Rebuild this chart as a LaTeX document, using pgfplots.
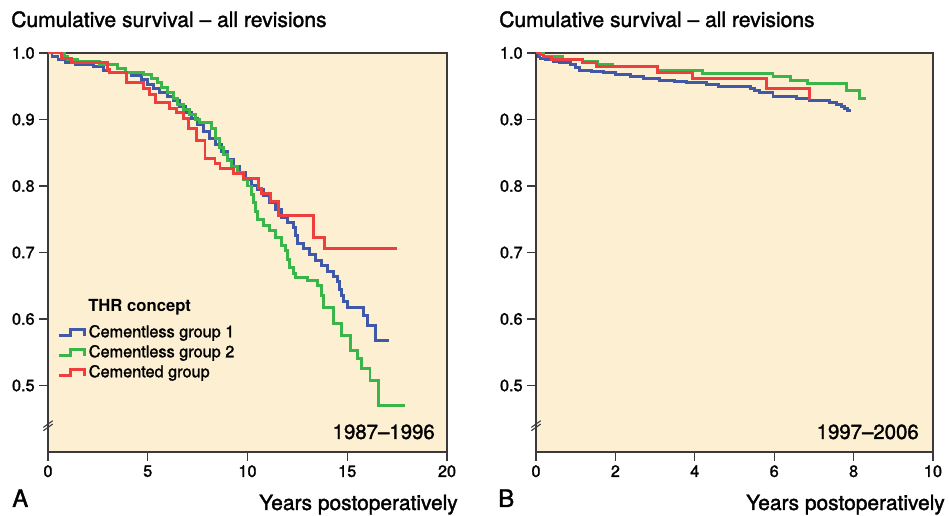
\documentclass[border=0pt]{standalone}
\usepackage{fontspec}
\setmainfont{TeX Gyre Heros}[UprightFeatures={FakeBold=1.6}]
\usepackage{pgfplots}
\pgfplotsset{compat=1.18}

\definecolor{bgtan}{HTML}{FDEFD1}
\definecolor{kmblue}{HTML}{3F58A8}
\definecolor{kmgreen}{HTML}{3AB54A}
\definecolor{kmred}{HTML}{EE3E3E}
\definecolor{axgray}{HTML}{3A3A3A}

\tikzset{breakmark/.style={axgray, line width=0.8pt}}

\pgfplotsset{
  kmaxis/.style={
    scale only axis, height=299.25pt, anchor=south west,
    ymin=0.4, ymax=1.0, ytick={0.5,0.6,0.7,0.8,0.9,1.0},
    axis background/.style={fill=bgtan},
    axis line style={axgray, line width=1pt},
    tick style={axgray, line width=1pt},
    tick align=outside, xtick pos=bottom, ytick pos=left,
    major tick length=6.5pt,
    tick label style={font=\fontsize{12.2}{14}\selectfont},
    /pgf/number format/assume math mode=true,
    yticklabel style={/pgf/number format/.cd, fixed, fixed zerofill, precision=1, /tikz/.cd},
    clip=false,
    every axis plot/.append style={line width=2.2pt, const plot mark left, no markers},
  },
  kmlegend/.style={
    legend image code/.code={
      \draw[##1] (0pt,-2.5pt) -- (9pt,-2.5pt) -- (9pt,2.5pt) -- (19.5pt,2.5pt) -- (19.5pt,-2.5pt);
      \path (21.5pt,0pt);
    },
    legend style={draw=none, fill=none, inner sep=0pt,
      at={(axis cs:0.45,0.595)}, anchor=north west,
      font=\fontsize{12.2}{15}\selectfont,
      nodes={inner sep=0pt, text height=11pt, text depth=4pt},
      legend cell align=left},
  },
}

\begin{document}
\begin{tikzpicture}
\useasboundingbox (0,0) rectangle (711.75pt,387pt);

% ---------- panel A: 1987-1996 ----------
\begin{axis}[kmaxis, kmlegend, at={(36pt,48pt)}, width=299.25pt,
  xmin=0, xmax=20, xtick={0,5,10,15,20}]
\addplot[kmblue] coordinates {
(0,1)(0.2,0.995)(0.5,0.99)(0.9,0.985)(1.4,0.982)(2.3,0.979)(2.8,0.974)(3.1,0.97)
(4.2,0.966)(4.7,0.96)(5.0,0.952)(5.3,0.946)(5.6,0.94)(6.0,0.934)(6.3,0.928)(6.6,0.92)
(6.9,0.91)(7.2,0.902)(7.5,0.893)(7.8,0.882)(8.1,0.872)(8.4,0.862)(8.7,0.852)(9.0,0.84)
(9.3,0.83)(9.6,0.82)(9.9,0.81)(10.2,0.801)(10.5,0.795)(10.8,0.785)(11.1,0.775)(11.4,0.765)
(11.7,0.753)(12.0,0.745)(12.3,0.737)(12.4,0.725)(12.5,0.714)(12.8,0.706)(13.1,0.697)
(13.4,0.688)(13.7,0.68)(14.0,0.671)(14.3,0.664)(14.5,0.656)(14.6,0.645)(14.7,0.636)
(14.8,0.627)(15.0,0.617)(15.8,0.605)(16.0,0.59)(16.4,0.567)(17.1,0.567)};
\addlegendentry{Cementless group 1}
\addplot[kmgreen] coordinates {
(0,1)(0.85,0.995)(1.0,0.99)(1.5,0.987)(2.6,0.982)(3.5,0.976)(3.9,0.971)(4.8,0.968)
(5.2,0.962)(5.5,0.955)(5.7,0.948)(6.0,0.94)(6.3,0.932)(6.5,0.923)(6.8,0.915)(7.1,0.908)
(7.4,0.9)(7.6,0.895)(8.2,0.887)(8.4,0.872)(8.6,0.858)(8.8,0.848)(9.0,0.838)(9.2,0.83)
(9.5,0.82)(9.8,0.81)(10.0,0.8)(10.2,0.787)(10.3,0.775)(10.4,0.762)(10.5,0.749)(10.8,0.74)
(11.1,0.733)(11.4,0.722)(11.7,0.71)(11.9,0.703)(12.0,0.69)(12.1,0.678)(12.3,0.668)
(12.4,0.662)(13.0,0.658)(13.5,0.651)(13.7,0.635)(13.8,0.617)(14.3,0.593)(14.72,0.575)
(15.14,0.553)(15.5,0.54)(15.72,0.526)(16.14,0.508)(16.56,0.47)(17.9,0.47)};
\addlegendentry{Cementless group 2}
\addplot[kmred] coordinates {
(0,1)(0.7,0.992)(1.2,0.985)(3.0,0.975)(3.1,0.971)(3.95,0.955)(4.8,0.947)(5.1,0.937)
(5.4,0.925)(6.1,0.917)(6.45,0.91)(6.8,0.902)(7.03,0.887)(7.45,0.869)(7.87,0.841)
(8.37,0.834)(8.62,0.826)(9.29,0.819)(9.79,0.811)(10.54,0.797)(10.7,0.789)(11.13,0.776)
(11.55,0.756)(13.3,0.723)(13.88,0.706)(17.48,0.706)};
\addlegendentry{Cemented group}
\draw[breakmark] ([xshift=-3.5pt,yshift=-4pt]axis cs:0,0.44) -- ++(7pt,5pt);
\draw[breakmark] ([xshift=-3.5pt,yshift=-1.5pt]axis cs:0,0.44) -- ++(7pt,5pt);
\end{axis}

% ---------- panel B: 1997-2006 ----------
\begin{axis}[kmaxis, at={(402pt,48pt)}, width=297.75pt,
  xmin=0, xmax=10, xtick={0,2,4,6,8,10}]
\addplot[kmblue] coordinates {
(0,1)(0.05,0.995)(0.1,0.992)(0.25,0.99)(0.43,0.987)(0.6,0.985)(0.86,0.982)(1.0,0.978)
(1.1,0.974)(1.4,0.972)(1.7,0.97)(2.0,0.967)(2.37,0.964)(2.7,0.962)(3.12,0.959)(3.5,0.957)
(3.8,0.956)(4.3,0.952)(4.6,0.95)(4.96,0.949)(5.4,0.947)(5.5,0.944)(5.64,0.941)(5.9,0.94)
(5.97,0.934)(6.57,0.932)(6.9,0.929)(7.1,0.928)(7.4,0.926)(7.58,0.922)(7.7,0.919)
(7.78,0.917)(7.85,0.913)(7.9,0.911)};
\addplot[kmgreen] coordinates {
(0,1)(0.18,0.995)(0.68,0.99)(1.16,0.987)(1.56,0.982)(1.94,0.979)(3.05,0.974)(4.2,0.969)
(5.97,0.964)(6.4,0.959)(6.83,0.954)(7.83,0.944)(8.16,0.931)(8.3,0.931)};
\addplot[kmred] coordinates {
(0,1)(0.1,0.997)(0.2,0.994)(0.4,0.99)(1.16,0.985)(1.53,0.979)(3.05,0.971)(3.95,0.962)
(5.8,0.947)(6.9,0.929)};
\draw[breakmark] ([xshift=-3.5pt,yshift=-4pt]axis cs:0,0.44) -- ++(7pt,5pt);
\draw[breakmark] ([xshift=-3.5pt,yshift=-1.5pt]axis cs:0,0.44) -- ++(7pt,5pt);
\end{axis}

% ---------- texts ----------
\node[anchor=base west, inner sep=0pt, font=\fontsize{15.8}{18}\selectfont] at (8.25pt,366.75pt) {Cumulative survival – all revisions};
\node[anchor=base west, inner sep=0pt, font=\fontsize{15.8}{18}\selectfont] at (374.25pt,366.75pt) {Cumulative survival – all revisions};
\node[anchor=base west, inner sep=0pt, font=\fontsize{12.5}{15}\bfseries] at (66pt,153pt) {THR concept};
\node[anchor=base east, inner sep=0pt, font=\fontsize{15.3}{18}\selectfont] at (326.25pt,57.75pt) {1987–1996};
\node[anchor=base east, inner sep=0pt, font=\fontsize{15.3}{18}\selectfont] at (689.25pt,57.75pt) {1997–2006};
\node[anchor=base east, inner sep=0pt, font=\fontsize{15.7}{18}\selectfont] at (343.5pt,4.5pt) {Years postoperatively};
\node[anchor=base east, inner sep=0pt, font=\fontsize{15.7}{18}\selectfont] at (708.75pt,4.5pt) {Years postoperatively};
\node[anchor=base west, inner sep=0pt, font=\fontsize{18}{20}\selectfont] at (9pt,6.75pt) {A};
\node[anchor=base west, inner sep=0pt, font=\fontsize{18}{20}\selectfont] at (373.5pt,6.75pt) {B};
\end{tikzpicture}
\end{document}
